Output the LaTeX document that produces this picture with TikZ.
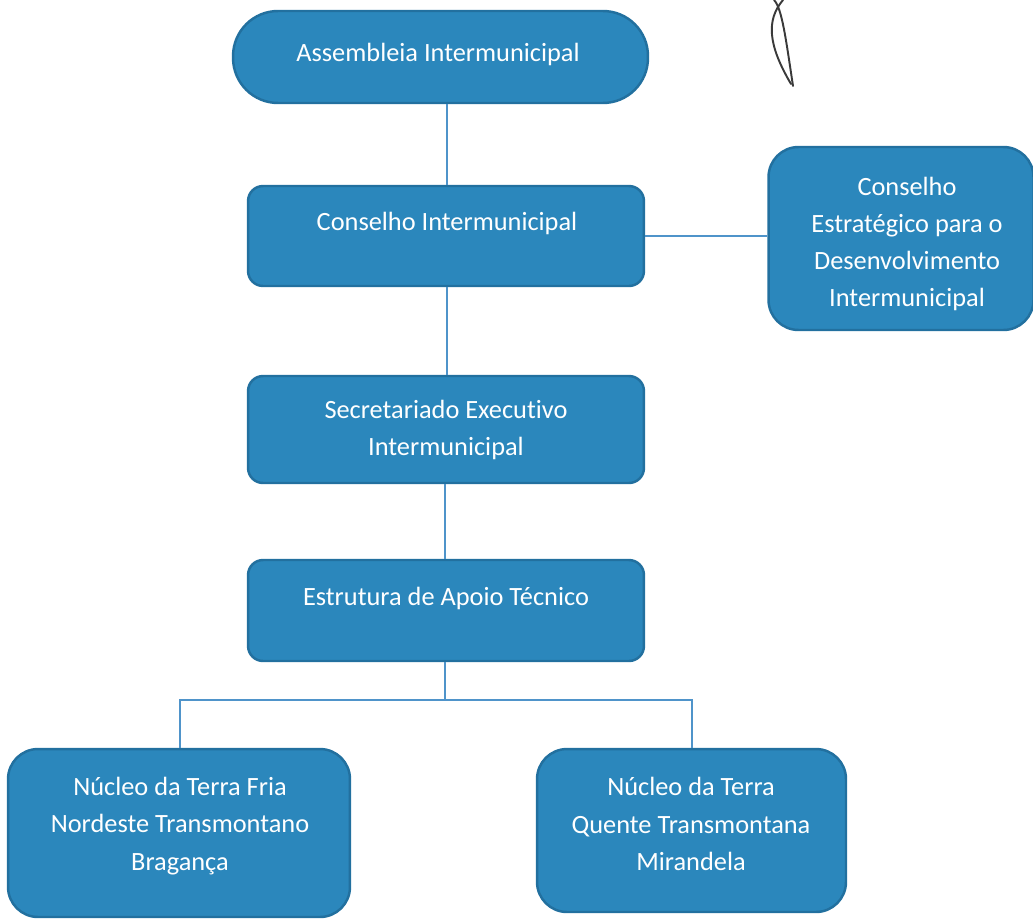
\documentclass[tikz,border=0pt]{standalone}
\usepackage{fontspec}
\setmainfont[Ligatures=CommonOff]{Carlito}
\definecolor{boxfill}{HTML}{2B87BC}
\definecolor{boxedge}{HTML}{22709F}
\definecolor{linkcol}{HTML}{4F94CA}
\definecolor{penink}{HTML}{3A3A3A}
\begin{document}
\begin{tikzpicture}[x=0.02cm,y=-0.02cm,
  box/.style={draw=boxedge,fill=boxfill,line width=1.4pt,inner sep=0pt},
  txt/.style={text=white,font=\fontsize{15}{21.2}\selectfont,align=center,inner sep=0pt,anchor=center},
  link/.style={draw=linkcol,line width=1pt}]
\useasboundingbox (0,0) rectangle (1033,919);
% boxes
\node[box,rounded corners=0.9cm,minimum width=8.3cm,minimum height=1.84cm] (ai) at (440.5,57) {};
\node[box,rounded corners=0.3cm,minimum width=7.92cm,minimum height=2.0cm] (ci) at (446,236) {};
\node[box,rounded corners=0.6cm,minimum width=5.3cm,minimum height=3.66cm] (ce) at (901,238.5) {};
\node[box,rounded corners=0.3cm,minimum width=7.92cm,minimum height=2.14cm] (se) at (446,429.5) {};
\node[box,rounded corners=0.3cm,minimum width=7.92cm,minimum height=2.02cm] (ea) at (446,610.5) {};
\node[box,rounded corners=0.6cm,minimum width=6.84cm,minimum height=3.36cm] (nf) at (179,833) {};
\node[box,rounded corners=0.6cm,minimum width=6.18cm,minimum height=3.26cm] (nq) at (691.5,830.5) {};
% texts
\node[txt] (ai-t) at (438,54) {Assembleia Intermunicipal};
\node[txt] (ci-t) at (447,223) {Conselho Intermunicipal};
\node[txt] (ce-t) at (907,244) {Conselho\\Estratégico para o\\Desenvolvimento\\Intermunicipal};
\node[txt] (se-t) at (446,430) {Secretariado Executivo\\Intermunicipal};
\node[txt] (ea-t) at (446,598) {Estrutura de Apoio Técnico};
\node[txt] (nf-t) at (180,826) {Núcleo da Terra Fria\\Nordeste Transmontano\\Bragança};
\node[txt] (nq-t) at (691,824) {Núcleo da Terra\\Quente Transmontana\\Mirandela};
% connectors
\coordinate (jn) at (445,700);
\draw[link] (ai.south -| 447,0) -- (ci.north -| 447,0);
\draw[link] (ci.south -| 447,0) -- (se.north -| 447,0);
\draw[link] (se.south -| 445,0) -- (ea.north -| 445,0);
\draw[link] (ci.east |- 0,236) -- (ce.west |- 0,236);
\draw[link] (ea.south -| 445,0) -- (jn);
\draw[link] (jn) -| (nf.north -| 180,0);
\draw[link] (jn) -| (nq.north -| 692,0);
% pen scribble
\draw[penink,line width=1.1pt,line cap=round] (783,0) .. controls (766,20) and (768,45) .. (791,84);
\draw[penink,line width=1.1pt,line cap=round] (774,0) .. controls (782,8) and (786,40) .. (793,86);
\end{tikzpicture}
\end{document}
